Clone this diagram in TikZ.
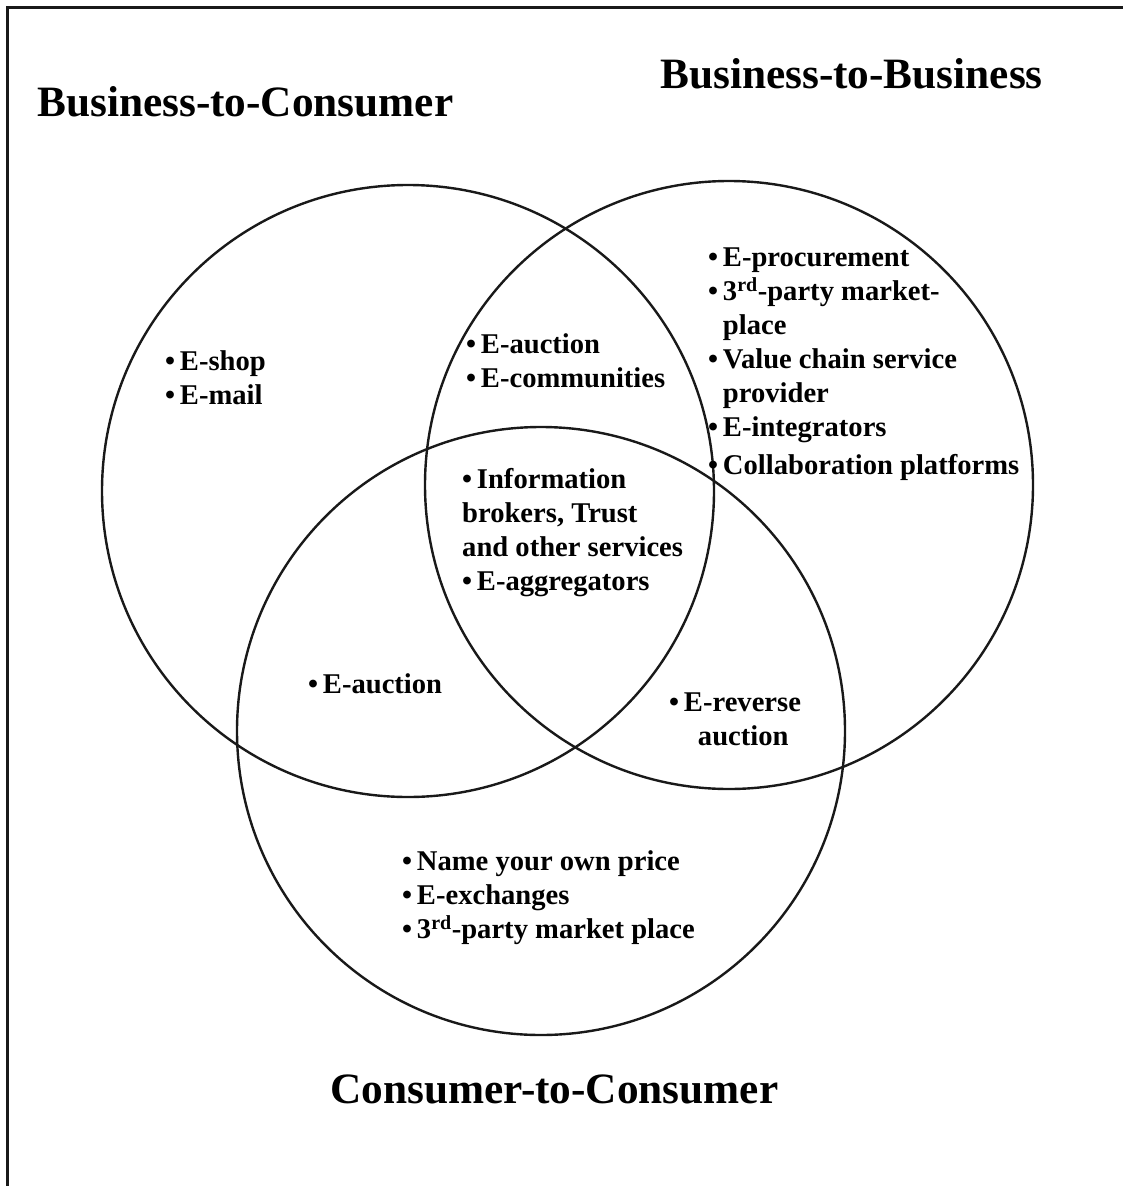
\documentclass[tikz,border=0pt]{standalone}
\usepackage{fontspec}
\setmainfont{Liberation Serif}
\begin{document}
\begin{tikzpicture}[x=1pt,y=-1pt,
  ring/.style={draw=black!90,line width=2.4pt},
  frame/.style={draw=black!90,line width=3pt},
  title/.style={font=\fontsize{43.3}{50}\selectfont\bfseries,inner sep=0pt,anchor=base west},
  items/.style={font=\fontsize{28.6}{34}\selectfont\bfseries,inner sep=0pt,anchor=north west,align=left}]
\useasboundingbox (0,0) rectangle (1123,1186);
% frame (top and left only)
\coordinate (fa) at (7,1186);
\coordinate (fb) at (7,7);
\coordinate (fc) at (1123,7);
\draw[frame] (fa) -- (fb) -- (fc);
% circles
\node[ring,circle,minimum size=612pt,inner sep=0pt] (b2c) at (408,491) {};
\node[ring,circle,minimum size=608pt,inner sep=0pt] (b2b) at (729,485) {};
\node[ring,circle,minimum size=608pt,inner sep=0pt] (c2c) at (541,731) {};
% titles
\node[title] (tb2c) at (37,116) {Business-to-Consumer};
\node[title] (tb2b) at (660,88) {Business-to-Business};
\node[title] (tc2c) at (330,1103) {Consumer-to-Consumer};
% lists
\newcommand{\hb}{\hphantom{•\,}}
\node[items] (l1) at (165,350) {•\,E-shop\\•\,E-mail};
\node[items] (l2) at (466,333) {•\,E-auction\\•\,E-communities};
\node[items] (l3) at (708,248) {•\,E-procurement\\•\,3\textsuperscript{rd}-party market-\\\hb place\\•\,Value chain service\\\hb provider\\•\,E-integrators\\[4pt]•\,Collaboration platforms};
\node[items] (l4) at (462,468) {•\,Information\\brokers, Trust\\and other services\\•\,E-aggregators};
\node[items] (l5) at (308,673) {•\,E-auction};
\node[items] (l6) at (669,693) {•\,E-reverse\\\hb\hspace{14pt}auction};
\node[items] (l7) at (402,850) {•\,Name your own price\\•\,E-exchanges\\•\,3\textsuperscript{rd}-party market place};
\end{tikzpicture}
\end{document}
